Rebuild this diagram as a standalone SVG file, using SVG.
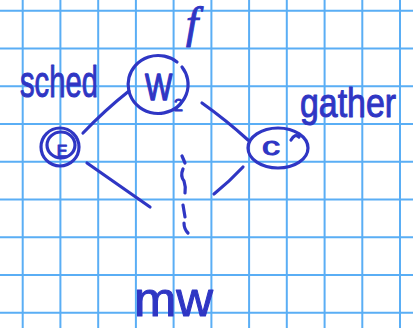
<svg xmlns="http://www.w3.org/2000/svg" width="413" height="328" viewBox="0 0 413 328">
  <style>
    .grid { stroke: #5aaef5; stroke-width: 2; fill: none; }
    .ink { stroke: #2f36c4; stroke-width: 3.2; fill: none; stroke-linecap: round; stroke-linejoin: round; }
    .hand { fill: #2f36c4; stroke: #2f36c4; stroke-width: 1; stroke-linejoin: round; font-family: "Liberation Sans", "DejaVu Sans", sans-serif; }
    .hand-it { fill: #2f36c4; stroke: #2f36c4; stroke-width: 1; font-family: "Liberation Serif", "DejaVu Serif", serif; font-style: italic; }
  </style>

  <!-- squared paper -->
  <rect width="413" height="328" fill="#ffffff"/>
  <g id="paper-grid" class="grid">
    <path d="M22.7 0V328 M60.4 0V328 M98.2 0V328 M135.9 0V328 M173.6 0V328 M211.4 0V328 M249.1 0V328 M286.8 0V328 M324.6 0V328 M362.3 0V328 M400 0V328"/>
    <path d="M0 10.7H413 M0 48.5H413 M0 86.2H413 M0 124H413 M0 161.7H413 M0 199.5H413 M0 237.2H413 M0 275H413 M0 312.7H413"/>
  </g>

  <!-- connectors -->
  <g id="connectors" class="ink">
    <path d="M83 133 Q105 110 129 91"/>
    <path d="M202 103 Q226 120 248 140"/>
    <path d="M87 163 Q120 186 150 207"/>
    <path d="M243 167 Q229 182 214 194"/>
    <path d="M182 156 L185 163 M183 169 Q180 176 184 181 Q186 187 185 193 M183 205 L185 217 M184 223 Q184 229 188 233"/>
  </g>

  <!-- node E -->
  <g id="node-E">
    <circle class="ink" cx="60" cy="147" r="19"/>
    <ellipse class="ink" cx="61" cy="145" rx="14" ry="13"/>
    <text class="hand" x="62" y="157" font-size="16" text-anchor="middle">E</text>
  </g>

  <!-- node W2 -->
  <g id="node-W2">
    <path class="ink" d="M182 67 A30 29 0 1 1 177 62"/>
    <text class="hand" transform="translate(145 100) scale(1 1.25)" font-size="29">W</text>
    <text class="hand" x="174" y="111" font-size="16">2</text>
  </g>

  <!-- node C -->
  <g id="node-C">
    <ellipse class="ink" cx="278" cy="148" rx="30" ry="20"/>
    <path class="ink" d="M291 140 Q295 133 299 137"/>
    <text class="hand" x="262" y="155" font-size="25" textLength="18" lengthAdjust="spacingAndGlyphs">c</text>
  </g>

  <!-- annotations -->
  <g id="labels">
    <text class="hand" x="20" y="97" font-size="44" textLength="78" lengthAdjust="spacingAndGlyphs">sched</text>
    <text class="hand-it" x="186" y="38" font-size="44">f</text>
    <text class="hand" x="300" y="117" font-size="40" textLength="96" lengthAdjust="spacingAndGlyphs">gather</text>
    <text class="hand" x="134" y="316" font-size="48" textLength="79" lengthAdjust="spacingAndGlyphs">mw</text>
  </g>
</svg>
